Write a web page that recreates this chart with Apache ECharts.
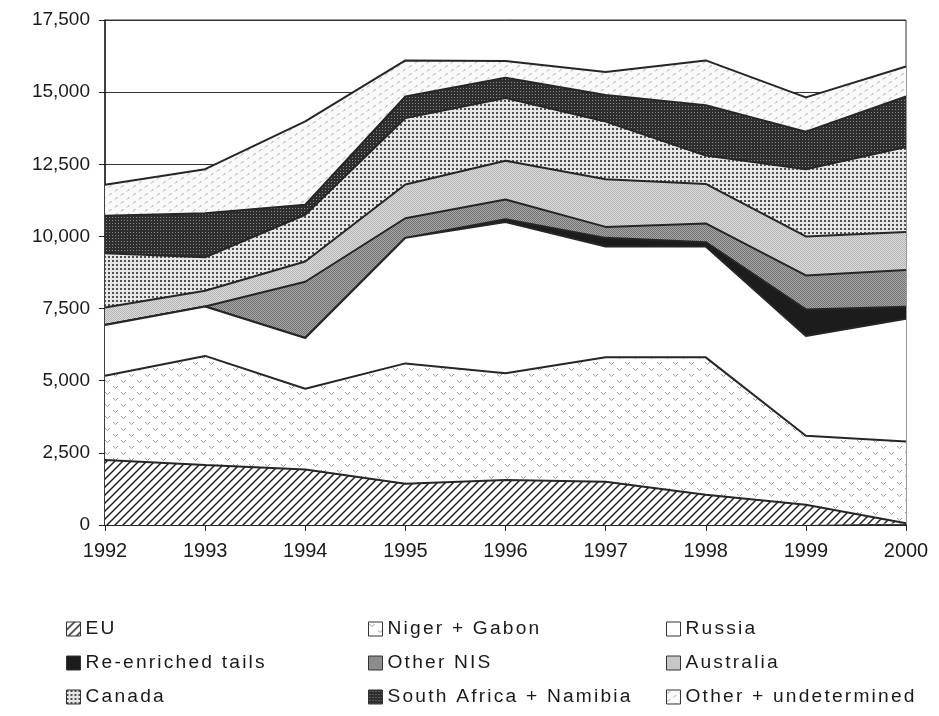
<!DOCTYPE html>
<html>
<head>
<meta charset="utf-8">
<script src="https://cdn.jsdelivr.net/npm/echarts@6/dist/echarts.min.js"></script>
<style>
html,body{margin:0;padding:0;background:#fff;}
#chart{width:939px;height:716px;}
</style>
</head>
<body>
<div id="chart"></div>
<script>
// ---- data ----
const years = ['1992','1993','1994','1995','1996','1997','1998','1999','2000'];
const eu          = [2250, 2080, 1920, 1430, 1560, 1500, 1050,  700,   60];
const nigerGabon  = [2920, 3780, 2800, 4170, 3700, 4310, 4760, 2390, 2830];
const russia      = [1760, 1710, 1760, 4350, 5240, 3840, 3840, 3460, 4260];
const reEnriched  = [   0,    0,    0,    0,  100,  300,  150,  920,  410];
const otherNIS    = [   0,    0, 1950,  680,  680,  380,  650, 1180, 1280];
const australia   = [ 610,  550,  700, 1170, 1340, 1650, 1370, 1350, 1310];
const canada      = [1880, 1160, 1620, 2300, 2180, 2000,  980, 2330, 2950];
const southAfrica = [1300, 1520,  350,  750,  700,  920, 1750, 1300, 1750];
const otherUndet  = [1070, 1530, 2890, 1250,  580,  800, 1550, 1190, 1040];
const seriesNames = ['EU','Niger + Gabon','Russia','Re-enriched tails','Other NIS','Australia','Canada','South Africa + Namibia','Other + undetermined'];
const yTicks = [0, 2500, 5000, 7500, 10000, 12500, 15000, 17500];

// legend text in the reference is set with wide letter spacing
(function () {
  const proto = CanvasRenderingContext2D.prototype;
  if (!('letterSpacing' in proto)) return;
  const orig = proto.fillText;
  proto.fillText = function (text, x, y, maxW) {
    this.letterSpacing = /19\.2px/.test(this.font) ? '2.2px' : '0px';
    return maxW === undefined ? orig.call(this, text, x, y) : orig.call(this, text, x, y, maxW);
  };
})();

// ---- patterns ----
function tile(w, h, draw) {
  const c = document.createElement('canvas');
  c.width = w; c.height = h;
  const g = c.getContext('2d');
  draw(g, w, h);
  return {image: c, repeat: 'repeat'};
}
const patEU = tile(8, 8, (g, w, h) => {
  g.fillStyle = '#fff'; g.fillRect(0, 0, w, h);
  g.strokeStyle = '#222'; g.lineWidth = 1.5;
  g.beginPath();
  g.moveTo(-2, h + 2); g.lineTo(w + 2, -2);
  g.moveTo(-2, 2); g.lineTo(2, -2);
  g.moveTo(w - 2, h + 2); g.lineTo(w + 2, h - 2);
  g.stroke();
});
const patNiger = tile(16, 12, (g, w, h) => {
  g.fillStyle = '#fff'; g.fillRect(0, 0, w, h);
  g.strokeStyle = '#9a9a9a'; g.lineWidth = 1;
  g.beginPath();
  g.moveTo(1, 2); g.lineTo(3.5, 4.5); g.lineTo(6, 2);
  g.moveTo(9, 8); g.lineTo(11.5, 10.5); g.lineTo(14, 8);
  g.stroke();
});
const patRussia = '#ffffff';
const patReEnr = '#1c1c1c';
const patNIS = tile(2, 2, (g) => {
  g.fillStyle = '#a8a8a8'; g.fillRect(0, 0, 2, 2);
  g.fillStyle = '#707070'; g.fillRect(0, 0, 1, 1); g.fillRect(1, 1, 1, 1);
});
const patAus = tile(2, 2, (g) => {
  g.fillStyle = '#dcdcdc'; g.fillRect(0, 0, 2, 2);
  g.fillStyle = '#b4b4b4'; g.fillRect(0, 0, 1, 1); g.fillRect(1, 1, 1, 1);
});
const patCanada = tile(4, 4, (g) => {
  g.fillStyle = '#e6e6e6'; g.fillRect(0, 0, 4, 4);
  g.fillStyle = '#505050'; g.fillRect(0, 0, 2, 2);
});
const patSA = tile(3, 3, (g) => {
  g.fillStyle = '#2e2e2e'; g.fillRect(0, 0, 3, 3);
  g.fillStyle = '#8a8a8a'; g.fillRect(1, 1, 1, 1);
});
const patOther = tile(12, 8, (g, w, h) => {
  g.fillStyle = '#fafafa'; g.fillRect(0, 0, w, h);
  g.strokeStyle = '#a0a0a0'; g.lineWidth = 1;
  g.beginPath();
  g.moveTo(1, 3.5); g.lineTo(3.5, 1);
  g.moveTo(7, 7.5); g.lineTo(9.5, 5);
  g.stroke();
});
const fills = [patEU, patNiger, patRussia, patReEnr, patNIS, patAus, patCanada, patSA, patOther];
const dataArr = [eu, nigerGabon, russia, reEnriched, otherNIS, australia, canada, southAfrica, otherUndet];

const FONT = "'Liberation Sans', Arial, sans-serif";

const series = seriesNames.map((name, i) => ({
  name: name,
  type: 'line',
  stack: 'total',
  data: dataArr[i],
  symbol: 'none',
  z: 30 - i,
  lineStyle: {color: '#262626', width: 2},
  itemStyle: {color: fills[i], borderColor: '#333', borderWidth: 1},
  areaStyle: {color: fills[i], opacity: 1},
  emphasis: {disabled: true},
  animation: false
}));

function legendCol(left, names) {
  return {
    left: left, top: 619, orient: 'vertical', padding: 0,
    icon: 'rect', itemWidth: 14, itemHeight: 14, itemGap: 14,
    selectedMode: false,
    textStyle: {fontFamily: FONT, fontSize: 19.2, color: '#1a1a1a', lineHeight: 20, padding: [0, 0, 0, 0]},
    itemStyle: {borderColor: '#333', borderWidth: 1},
    data: names.map(n => ({name: n, itemStyle: {color: fills[seriesNames.indexOf(n)], borderColor: '#333', borderWidth: 1}}))
  };
}

const chart = echarts.init(document.getElementById('chart'), null, {renderer: 'canvas'});
chart.setOption({
  animation: false,
  backgroundColor: '#fff',
  grid: {left: 105, right: 33, top: 20, bottom: 191, show: true, borderColor: '#333', borderWidth: 1, backgroundColor: 'transparent'},
  xAxis: {
    type: 'category', data: years, boundaryGap: false,
    axisLine: {lineStyle: {color: '#222', width: 1.5}},
    axisTick: {show: true, length: 6, inside: false, lineStyle: {color: '#222'}},
    axisLabel: {fontFamily: FONT, fontSize: 20, color: '#1a1a1a', margin: 16}
  },
  yAxis: {
    type: 'value', min: yTicks[0], max: yTicks[yTicks.length - 1], interval: 2500,
    axisLine: {show: true, lineStyle: {color: '#222', width: 1.5}},
    axisTick: {show: true, length: 6, lineStyle: {color: '#222'}},
    splitLine: {show: true, lineStyle: {color: '#333', width: 1}},
    axisLabel: {fontFamily: FONT, fontSize: 19, color: '#1a1a1a', margin: 15,
      formatter: v => v.toLocaleString('en-US')}
  },
  legend: [
    legendCol(66, ['EU', 'Re-enriched tails', 'Canada']),
    legendCol(368, ['Niger + Gabon', 'Other NIS', 'South Africa + Namibia']),
    legendCol(666, ['Russia', 'Australia', 'Other + undetermined'])
  ],
  series: series
});
</script>
</body>
</html>
